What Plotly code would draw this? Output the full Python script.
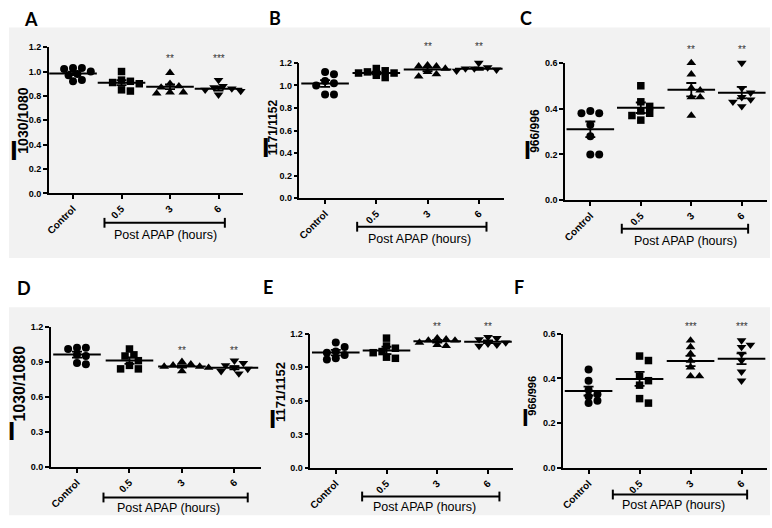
import plotly.graph_objects as go

W, H = 772, 528

categories = ["Control", "0.5", "3", "6"]

a_control = [1.03, 1.02, 1.03, 1.00, 0.98, 0.97, 0.93, 0.92]
a_h05 = [1.00, 0.93, 0.92, 0.91, 0.90, 0.84, 0.85]
a_h3 = [0.99, 0.90, 0.88, 0.87, 0.83, 0.82, 0.83]
a_h6 = [0.93, 0.88, 0.87, 0.86, 0.85, 0.84, 0.81]
a_mean = [0.985, 0.909, 0.875, 0.858]
a_sem = [0.015, 0.02, 0.02, 0.015]
a_sig = ["", "", "**", "***"]

b_control = [1.12, 1.10, 1.04, 1.02, 1.00, 0.92, 0.92]
b_h05 = [1.15, 1.13, 1.12, 1.11, 1.11, 1.09, 1.07]
b_h3 = [1.18, 1.17, 1.17, 1.15, 1.12, 1.10, 1.08]
b_h6 = [1.20, 1.16, 1.15, 1.15, 1.14, 1.13, 1.12]
b_mean = [1.017, 1.111, 1.142, 1.148]
b_sem = [0.03, 0.012, 0.016, 0.01]
b_sig = ["", "", "**", "**"]

c_control = [0.39, 0.38, 0.38, 0.33, 0.28, 0.20, 0.20]
c_h05 = [0.50, 0.43, 0.41, 0.39, 0.38, 0.37, 0.35]
c_h3 = [0.60, 0.55, 0.49, 0.48, 0.45, 0.45, 0.37]
c_h6 = [0.60, 0.49, 0.47, 0.45, 0.44, 0.43, 0.41]
c_mean = [0.31, 0.404, 0.483, 0.47]
c_sem = [0.034, 0.023, 0.029, 0.025]
c_sig = ["", "", "**", "**"]

d_control = [1.02, 1.02, 1.01, 0.96, 0.95, 0.89, 0.88]
d_h05 = [1.01, 0.96, 0.95, 0.91, 0.87, 0.84, 0.84]
d_h3 = [0.90, 0.88, 0.87, 0.86, 0.86, 0.85, 0.82]
d_h6 = [0.91, 0.89, 0.87, 0.85, 0.84, 0.82, 0.80]
d_mean = [0.962, 0.911, 0.861, 0.850]
d_sem = [0.025, 0.028, 0.01, 0.014]
d_sig = ["", "", "**", "**"]

e_control = [1.12, 1.08, 1.04, 1.03, 1.01, 0.98, 0.97]
e_h05 = [1.16, 1.09, 1.07, 1.04, 1.03, 0.99, 0.98]
e_h3 = [1.16, 1.15, 1.14, 1.14, 1.12, 1.10, 1.09]
e_h6 = [1.17, 1.16, 1.15, 1.12, 1.11, 1.10, 1.09]
e_mean = [1.031, 1.05, 1.133, 1.127]
e_sem = [0.024, 0.033, 0.012, 0.012]
e_sig = ["", "", "**", "**"]

f_control = [0.44, 0.39, 0.35, 0.33, 0.32, 0.30, 0.29]
f_h05 = [0.50, 0.48, 0.41, 0.39, 0.37, 0.31, 0.29]
f_h3 = [0.57, 0.54, 0.51, 0.48, 0.45, 0.41, 0.41]
f_h6 = [0.57, 0.55, 0.54, 0.51, 0.48, 0.43, 0.39]
f_mean = [0.344, 0.398, 0.478, 0.488]
f_sem = [0.02, 0.031, 0.023, 0.024]
f_sig = ["", "", "***", "***"]

y_titles = ["1030/1080", "1171/1152", "966/996", "1030/1080", "1171/1152", "966/996"]
panel_letters = ["A", "B", "C", "D", "E", "F"]
x_title = "Post APAP (hours)"

panels = [
    dict(groups=[a_control, a_h05, a_h3, a_h6], mean=a_mean, sem=a_sem, sig=a_sig),
    dict(groups=[b_control, b_h05, b_h3, b_h6], mean=b_mean, sem=b_sem, sig=b_sig),
    dict(groups=[c_control, c_h05, c_h3, c_h6], mean=c_mean, sem=c_sem, sig=c_sig),
    dict(groups=[d_control, d_h05, d_h3, d_h6], mean=d_mean, sem=d_sem, sig=d_sig),
    dict(groups=[e_control, e_h05, e_h3, e_h6], mean=e_mean, sem=e_sem, sig=e_sig),
    dict(groups=[f_control, f_h05, f_h3, f_h6], mean=f_mean, sem=f_sem, sig=f_sig),
]

# layout (pixel geometry) per panel
geo = [
    dict(x0=45, x1=240, yt=43, yb=192, yr=1.2, dt=0.2, sigy=1.17,
         br=(101, 222, 222), pt=(162, 234), I=(10, 148, 28), sub=(19, 118, 14), L=(27, 14)),
    dict(x0=297, x1=503, yt=59, yb=197, yr=1.2, dt=0.2, sigy=1.41,
         br=(355, 485, 226), pt=(418, 239), I=(263, 146, 27), sub=(270, 125, 12), L=(272, 13)),
    dict(x0=564, x1=767, yt=59, yb=199, yr=0.6, dt=0.2, sigy=0.69,
         br=(621, 748, 228), pt=(685, 241), I=(526, 148, 25), sub=(533, 128, 12), L=(525, 13)),
    dict(x0=47, x1=258, yt=328, yb=471, yr=1.2, dt=0.3, sigy=1.065,
         br=(100, 245, 502), pt=(165, 513), I=(8, 434, 26), sub=(16, 386, 16), L=(20, 288)),
    dict(x0=308, x1=512, yt=335, yb=472, yr=1.2, dt=0.3, sigy=1.33,
         br=(360, 498, 501), pt=(423, 512), I=(270, 422, 26), sub=(278, 395, 13), L=(265, 287)),
    dict(x0=562, x1=767, yt=335, yb=472, yr=0.6, dt=0.2, sigy=0.666,
         br=(612, 747, 499), pt=(673, 510), I=(524, 420, 24), sub=(531, 398, 11), L=(518, 287)),
]

symbols = ["circle", "square", "triangle-up", "triangle-down"]
msizes = [8, 7.5, 8.5, 8.5]
FONT = "Arial, Liberation Sans, sans-serif"


def px(x):
    return x / W


def py(y):
    return 1 - y / H


def swarm(vals, ppx, ppy, d=7.2):
    placed = []
    offs = [0.0] * len(vals)
    order = sorted(range(len(vals)), key=lambda i: -vals[i])
    cands = [0.0]
    for k in range(1, 8):
        cands += [k * d * 0.62, -k * d * 0.62]
    for i in order:
        yv = vals[i] * ppy
        for c in cands:
            ok = all((c - ox) ** 2 + (yv - oy) ** 2 >= (d * 0.95) ** 2 for ox, oy in placed)
            if ok:
                placed.append((c, yv))
                offs[i] = c / ppx
                break
    return offs


fig = go.Figure()
shapes = []
annotations = []

# gray panel bands
for (y0, y1) in [(23, 258), (308, 520)]:
    shapes.append(dict(type="rect", xref="paper", yref="paper", x0=px(5), x1=px(770),
                       y0=py(y1), y1=py(y0), fillcolor="#f2f2f2", line=dict(width=0), layer="below"))

for p, (pan, g) in enumerate(zip(panels, geo)):
    n = p + 1
    xa = "x" if n == 1 else f"x{n}"
    ya = "y" if n == 1 else f"y{n}"
    ppx = (g["x1"] - g["x0"]) / 4.0
    ppy = (g["yb"] - g["yt"]) / g["yr"]
    for gi, vals in enumerate(pan["groups"]):
        offs = swarm(vals, ppx, ppy)
        fig.add_trace(go.Scatter(
            x=[gi + o for o in offs], y=vals, mode="markers", xaxis=xa, yaxis=ya,
            marker=dict(symbol=symbols[gi], size=msizes[gi], color="black", line=dict(width=0)),
            cliponaxis=False, showlegend=False, hoverinfo="y"))
    fig.add_trace(go.Scatter(
        x=list(range(4)), y=pan["mean"], mode="markers", xaxis=xa, yaxis=ya,
        marker=dict(symbol="line-ew", size=34, color="black", line=dict(width=2, color="black")),
        error_y=dict(type="data", array=pan["sem"], visible=True, color="black", thickness=1.8, width=5),
        cliponaxis=False, showlegend=False, hoverinfo="y"))

    dom_x = [px(g["x0"]), px(g["x1"])]
    dom_y = [py(g["yb"]), py(g["yt"])]
    xkey = "xaxis" if n == 1 else f"xaxis{n}"
    ykey = "yaxis" if n == 1 else f"yaxis{n}"
    fig.update_layout(**{
        xkey: dict(domain=dom_x, anchor=ya, range=[-0.5, 3.5], tickvals=list(range(4)),
                   ticktext=categories, tickangle=-45, ticks="outside", ticklen=4, tickwidth=1.5,
                   tickcolor="black", showline=True, linecolor="black", linewidth=1.5,
                   showgrid=False, zeroline=False,
                   tickfont=dict(family=FONT, size=10, color="black", weight="bold")),
        ykey: dict(domain=dom_y, anchor=xa, range=[0, g["yr"]], dtick=g["dt"], tick0=0,
                   tickformat=".1f", ticks="outside", ticklen=4, tickwidth=1.5, tickcolor="black",
                   showline=True, linecolor="black", linewidth=1.5, showgrid=False, zeroline=False,
                   tickfont=dict(family=FONT, size=9, color="black", weight="bold")),
    })

    # significance stars (placed relative to the axis domain so they may sit above the axis top)
    for gi, s in enumerate(pan["sig"]):
        if s:
            annotations.append(dict(x=gi, y=g["sigy"] / g["yr"], xref=xa, yref=f"{ya} domain",
                                    text=s, showarrow=False,
                                    font=dict(family=FONT, size=10, color="#333")))

    # bracket
    bx0, bx1, by = g["br"]
    shapes.append(dict(type="line", xref="paper", yref="paper", x0=px(bx0), x1=px(bx1),
                       y0=py(by), y1=py(by), line=dict(color="black", width=2)))
    for bx in (bx0, bx1):
        shapes.append(dict(type="line", xref="paper", yref="paper", x0=px(bx), x1=px(bx),
                           y0=py(by - 5), y1=py(by + 5), line=dict(color="black", width=2)))
    annotations.append(dict(x=px(g["pt"][0]), y=py(g["pt"][1]), xref="paper", yref="paper",
                            text=x_title, showarrow=False, xanchor="center", yanchor="middle",
                            font=dict(family=FONT, size=12.5, color="black")))

    # y-axis title: upright I with rotated subscript
    ix, iy, isz = g["I"]
    annotations.append(dict(x=px(ix), y=py(iy), xref="paper", yref="paper", text="I",
                            showarrow=False, xanchor="center", yanchor="middle",
                            font=dict(family=FONT, size=isz, color="black", weight="bold")))
    sx, sy, ssz = g["sub"]
    annotations.append(dict(x=px(sx), y=py(sy), xref="paper", yref="paper", text=y_titles[p],
                            showarrow=False, xanchor="center", yanchor="middle", textangle=-90,
                            font=dict(family=FONT, size=ssz, color="black", weight="bold")))

    # panel letter
    lx, ly = g["L"]
    annotations.append(dict(x=px(lx), y=py(ly), xref="paper", yref="paper", text=panel_letters[p],
                            showarrow=False, xanchor="center", yanchor="middle",
                            font=dict(family="Lato, Open Sans, sans-serif", size=18, color="black",
                                      weight="bold")))

fig.update_layout(width=W, height=H, margin=dict(l=0, r=0, t=0, b=0),
                  paper_bgcolor="white", plot_bgcolor="rgba(0,0,0,0)",
                  shapes=shapes, annotations=annotations, showlegend=False)

fig.write_html("out.html", config={"displayModeBar": False},
               post_script="document.body.style.margin='0';document.body.style.overflow='hidden';")
